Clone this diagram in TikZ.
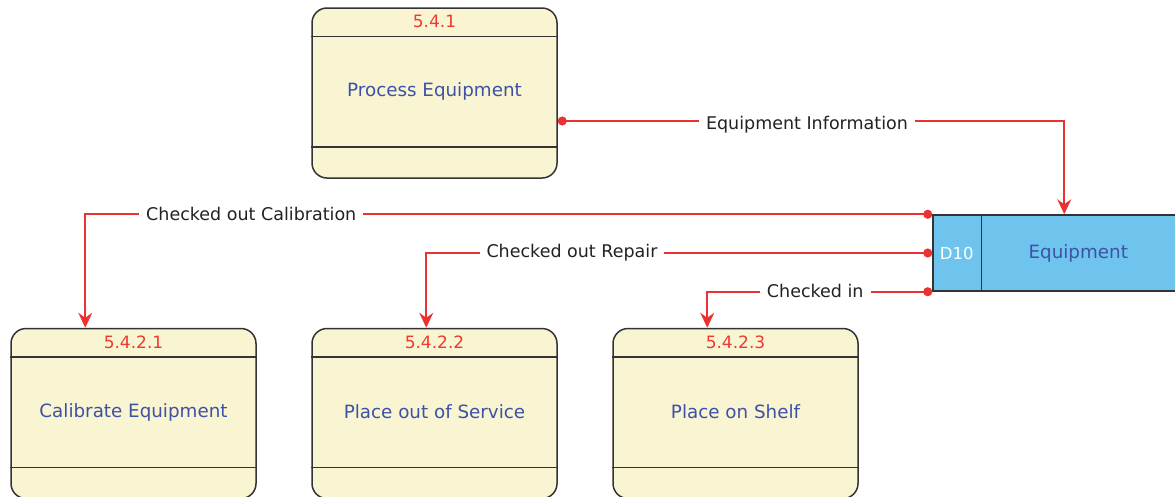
\documentclass[tikz,border=0pt]{standalone}
\usepackage{fontspec}
\setmainfont{DejaVu Sans}
\usetikzlibrary{calc,arrows.meta}
\definecolor{procfill}{HTML}{F9F5D2}
\definecolor{boxline}{HTML}{333333}
\definecolor{flowred}{HTML}{EA3232}
\definecolor{numred}{HTML}{EE3A30}
\definecolor{nameblue}{HTML}{3D51A6}
\definecolor{storefill}{HTML}{6EC4EC}
\definecolor{labeltext}{HTML}{222222}
\begin{document}
\begin{tikzpicture}[x=1pt,y=-1pt,
  procbox/.style={draw=boxline, line width=1.5pt, fill=procfill, rounded corners=15pt,
    minimum width=245pt, minimum height=170pt, inner sep=0pt},
  sepline/.style={draw=boxline, line width=1.5pt},
  numtext/.style={text=numred, font=\fontsize{17}{19}\selectfont, inner sep=0pt},
  nametext/.style={text=nameblue, font=\fontsize{18.3}{20}\selectfont, inner sep=0pt},
  storebox/.style={draw=boxline, line width=1.5pt, fill=storefill,
    minimum width=250pt, minimum height=76pt, inner sep=0pt},
  idtext/.style={text=white, font=\fontsize{16.5}{19}\selectfont, inner sep=0pt},
  flow/.style={draw=flowred, line width=1.6pt,
    {Circle[length=9pt,width=9pt]}-{Stealth[length=15pt,width=14pt,inset=5pt]}},
  lbl/.style={fill=white, text=labeltext, font=\fontsize{17.5}{20}\selectfont,
    inner xsep=7pt, inner ysep=1pt}
]
\useasboundingbox (0,0) rectangle (1175,496);
\clip (0,0) rectangle (1175,496);

% process boxes
\node[procbox] (p1) at (434.5,93) {};
\node[procbox] (b1) at (133.5,413.5) {};
\node[procbox] (b2) at (434.5,413.5) {};
\node[procbox] (b3) at (735.5,413.5) {};

\foreach \b in {p1,b1,b2,b3}{
  \draw[sepline] ($(\b.north west)+(0,29)$) -- ($(\b.north east)+(0,29)$);
  \draw[sepline] ($(\b.south west)+(0,-32)$) -- ($(\b.south east)+(0,-32)$);
}

\node[numtext] (p1n) at ($(p1.north)+(0,14)$) {5.4.1};
\node[numtext] (b1n) at ($(b1.north)+(0,14.5)$) {5.4.2.1};
\node[numtext] (b2n) at ($(b2.north)+(0,14.5)$) {5.4.2.2};
\node[numtext] (b3n) at ($(b3.north)+(0,14.5)$) {5.4.2.3};

\node[nametext] (p1t) at ($(p1.center)+(0,-1.5)$) {Process Equipment};
\node[nametext] (b1t) at ($(b1.center)+(0,-1.5)$) {Calibrate Equipment};
\node[nametext] (b2t) at ($(b2.center)+(0,-1.5)$) {Place out of Service};
\node[nametext] (b3t) at ($(b3.center)+(0,-1.5)$) {Place on Shelf};

% data store
\node[storebox] (ds) at (1058,253) {};
\draw[sepline] ($(ds.north west)+(49,0)$) -- ($(ds.south west)+(49,0)$);
\node[idtext] (dsid) at ($(ds.west)+(24.5,0)$) {D10};
\node[nametext] (dsname) at ($(ds.west)+(146,0)$) {Equipment};

% flows
\draw[flow] ($(p1.east)+(0,28)$) -| ($(ds.north west)+(132,0)$)
  node[lbl,pos=0.246,yshift=-4pt] {Equipment Information};
\draw[flow] (ds.north west) -| ($(b1.north west)+(75,0)$)
  node[lbl,pos=0.402] {Checked out Calibration};
\draw[flow] (ds.west) -| ($(b2.north west)+(115,0)$)
  node[lbl,pos=0.356] {Checked out Repair};
\draw[flow] (ds.south west) -| ($(b3.north west)+(95,0)$)
  node[lbl,pos=0.26,yshift=1pt] {Checked in};
\end{tikzpicture}
\end{document}
